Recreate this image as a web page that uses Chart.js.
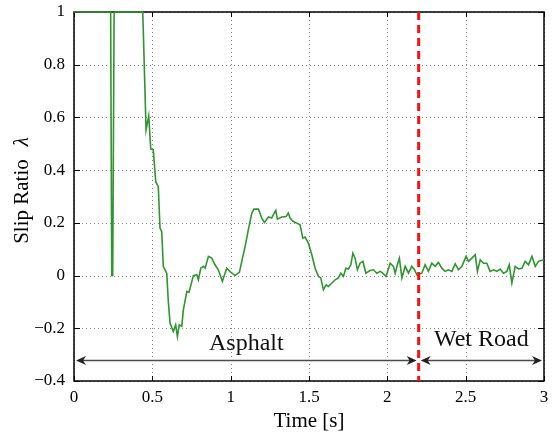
<!DOCTYPE html>
<html>
<head>
<meta charset="utf-8">
<script src="https://cdn.jsdelivr.net/npm/chart.js@4.4.1/dist/chart.umd.min.js"></script>
<style>
html, body { margin: 0; padding: 0; background: #fff; }
</style>
</head>
<body>
<canvas id="slipChart" width="555" height="434"></canvas>
<script>
// slip ratio samples
const timeS = [
    0, 0.234, 0.241, 0.247, 0.256, 0.439, 0.460, 0.477, 0.490, 0.506,
    0.522, 0.538, 0.549, 0.560, 0.570, 0.592, 0.602, 0.613, 0.634, 0.649,
    0.660, 0.672, 0.688, 0.698, 0.720, 0.734, 0.762, 0.784, 0.794, 0.809,
    0.826, 0.837, 0.858, 0.879, 0.900, 0.921, 0.947, 0.975, 0.996, 1.028,
    1.056, 1.071, 1.092, 1.113, 1.135, 1.149, 1.177, 1.199, 1.215, 1.241,
    1.262, 1.273, 1.288, 1.298, 1.326, 1.354, 1.368, 1.379, 1.400, 1.422,
    1.443, 1.460, 1.475, 1.496, 1.518, 1.539, 1.560, 1.575, 1.592, 1.609,
    1.624, 1.646, 1.667, 1.688, 1.703, 1.720, 1.735, 1.752, 1.767, 1.780,
    1.794, 1.809, 1.826, 1.844, 1.863, 1.890, 1.911, 1.933, 1.954, 1.965,
    1.992, 2.018, 2.039, 2.050, 2.064, 2.077, 2.093, 2.114, 2.135, 2.156,
    2.173, 2.188, 2.220, 2.241, 2.262, 2.284, 2.305, 2.326, 2.348, 2.369,
    2.390, 2.412, 2.433, 2.454, 2.476, 2.503, 2.518, 2.540, 2.561, 2.575,
    2.593, 2.614, 2.635, 2.656, 2.678, 2.699, 2.720, 2.741, 2.763, 2.778,
    2.795, 2.816, 2.837, 2.859, 2.880, 2.901, 2.923, 2.944, 2.965, 2.987,
    3.0
];
const slipRatio = [
    1, 1, 0, 0, 1, 1, 0.553, 0.606, 0.48, 0.477,
    0.355, 0.338, 0.18, 0.167, 0.035, 0.009, -0.098, -0.18, -0.212, -0.187,
    -0.231, -0.187, -0.193, -0.13, -0.06, -0.064, 0, 0.003, -0.016, 0.028,
    0.035, 0.028, 0.073, 0.066, 0.041, 0.022, -0.022, 0.028, 0.015, 0,
    0.013, 0.054, 0.11, 0.174, 0.237, 0.252, 0.252, 0.218, 0.201, 0.222,
    0.218, 0.231, 0.247, 0.214, 0.222, 0.224, 0.237, 0.218, 0.205, 0.199,
    0.193, 0.142, 0.146, 0.123, 0.079, 0.028, -0.003, -0.009, -0.054, -0.035,
    -0.041, -0.028, -0.016, -0.009, 0.009, -0.003, 0.028, 0.025, 0.041, 0.085,
    0.066, 0.022, 0.047, 0.054, 0.009, 0.019, 0.022, 0.009, 0.016, 0.012,
    -0.003, 0.047, 0.035, 0.009, 0.041, 0.066, -0.009, 0.035, 0.009, 0.035,
    0.022, 0.003, 0.009, 0.041, 0.016, 0.047, 0.035, 0.05, 0.028, 0.016,
    0.022, 0.016, 0.045, 0.022, 0.035, 0.073, 0.054, 0.066, 0.079, 0.016,
    0.06, 0.047, 0.047, 0.016, 0.022, 0.016, 0.025, 0.009, 0.016, 0.041,
    -0.028, 0.035, 0.025, 0.028, 0.054, 0.041, 0.073, 0.035, 0.054, 0.058,
    0.06
];
const xTicks = [0, 0.5, 1, 1.5, 2, 2.5, 3];
const yTicks = [-0.4, -0.2, 0, 0.2, 0.4, 0.6, 0.8, 1];

// road surfaces
const surfaceChange = 2.2;
const regionNames = ['Asphalt', 'Wet Road'];
const regionStart = [0, 2.2];
const regionEnd = [2.2, 3];
const labelLevel = [-0.282, -0.269];
const arrowLevel = -0.322;

const serif = "'Liberation Serif', 'DejaVu Serif', serif";

function fmtTick(value) {
    const v = Math.round(value * 10) / 10;
    if (v < 0) return '\u2212' + String(Math.abs(v));
    return String(v);
}

function drawArrowHead(ctx, x, y, dir) {
    // small stealth style head, dir = +1 points right
    ctx.beginPath();
    ctx.moveTo(x, y);
    ctx.lineTo(x - dir * 10, y - 4.5);
    ctx.lineTo(x - dir * 7, y);
    ctx.lineTo(x - dir * 10, y + 4.5);
    ctx.closePath();
    ctx.fill();
}

const decorPlugin = {
    id: 'decor',
    beforeDatasetsDraw(chart) {
        const {ctx, chartArea: a, scales: {x, y}} = chart;
        ctx.save();
        ctx.strokeStyle = '#888';
        ctx.lineWidth = 1;
        ctx.setLineDash([1, 3]);
        xTicks.forEach(t => {
            const px = Math.round(x.getPixelForValue(t)) + 0.5;
            ctx.beginPath(); ctx.moveTo(px, a.top); ctx.lineTo(px, a.bottom); ctx.stroke();
        });
        yTicks.forEach(v => {
            const py = Math.round(y.getPixelForValue(v)) + 0.5;
            ctx.beginPath(); ctx.moveTo(a.left, py); ctx.lineTo(a.right, py); ctx.stroke();
        });
        ctx.setLineDash([]);

        // box and inward ticks
        ctx.strokeStyle = '#000';
        ctx.lineWidth = 1.5;
        ctx.strokeRect(a.left, a.top, a.right - a.left, a.bottom - a.top);
        ctx.lineWidth = 1;
        xTicks.forEach(t => {
            const px = Math.round(x.getPixelForValue(t)) + 0.5;
            ctx.beginPath();
            ctx.moveTo(px, a.bottom); ctx.lineTo(px, a.bottom - 5);
            ctx.moveTo(px, a.top); ctx.lineTo(px, a.top + 5);
            ctx.stroke();
        });
        yTicks.forEach(v => {
            const py = Math.round(y.getPixelForValue(v)) + 0.5;
            ctx.beginPath();
            ctx.moveTo(a.left, py); ctx.lineTo(a.left + 6, py);
            ctx.moveTo(a.right, py); ctx.lineTo(a.right - 6, py);
            ctx.stroke();
        });
        ctx.restore();
    },
    afterDatasetsDraw(chart) {
        const {ctx, chartArea: a, scales: {x, y}} = chart;
        ctx.save();
        // region arrows and names
        const ay = Math.round(y.getPixelForValue(arrowLevel)) + 0.5;
        ctx.strokeStyle = '#4a4a4a';
        ctx.lineWidth = 1.5;
        for (let i = 0; i < regionNames.length; i++) {
            const x0 = x.getPixelForValue(regionStart[i]) + 2;
            const x1 = x.getPixelForValue(regionEnd[i]) - 2;
            ctx.beginPath(); ctx.moveTo(x0 + 4, ay); ctx.lineTo(x1 - 4, ay); ctx.stroke();
            ctx.fillStyle = '#222';
            drawArrowHead(ctx, x0, ay, -1);
            drawArrowHead(ctx, x1, ay, 1);

            ctx.fillStyle = '#111';
            ctx.font = '24px ' + serif;
            ctx.textAlign = 'center';
            ctx.textBaseline = 'alphabetic';
            const mid = (regionStart[i] + regionEnd[i]) / 2;
            ctx.fillText(regionNames[i], x.getPixelForValue(mid), y.getPixelForValue(labelLevel[i]));
        }

        // surface change marker
        const rx = x.getPixelForValue(surfaceChange);
        ctx.strokeStyle = '#ff1010';
        ctx.lineWidth = 3;
        ctx.setLineDash([8, 5]);
        ctx.beginPath(); ctx.moveTo(rx, a.top); ctx.lineTo(rx, a.bottom); ctx.stroke();
        ctx.restore();
    },
    afterDraw(chart) {
        const {ctx, chartArea: a} = chart;
        // y title with italic lambda
        ctx.save();
        const cy = (a.top + a.bottom) / 2 - 6;
        ctx.translate(28, cy);
        ctx.rotate(-Math.PI / 2);
        ctx.fillStyle = '#000';
        ctx.textBaseline = 'alphabetic';
        ctx.textAlign = 'left';
        const part1 = 'Slip Ratio';
        const part2 = '\u03bb';
        ctx.font = '21px ' + serif;
        const w1 = ctx.measureText(part1).width;
        const gap = 13;
        ctx.font = 'italic 21px ' + serif;
        const w2 = ctx.measureText(part2).width;
        const start = -(w1 + gap + w2) / 2;
        ctx.font = '21px ' + serif;
        ctx.fillText(part1, start, 0);
        ctx.font = 'italic 21px ' + serif;
        ctx.fillText(part2, start + w1 + gap, 0);
        ctx.restore();
    }
};

const points = timeS.map((t, i) => ({x: t, y: slipRatio[i]}));

new Chart(document.getElementById('slipChart'), {
    type: 'line',
    data: {
        datasets: [{
            label: 'Slip ratio',
            data: points,
            borderColor: '#2f952f',
            borderWidth: 1.6,
            pointRadius: 0,
            tension: 0,
            fill: false,
            clip: 4
        }]
    },
    options: {
        responsive: false,
        animation: false,
        layout: { padding: { top: 12, right: 11, left: 0, bottom: 0 } },
        plugins: {
            legend: { display: false },
            tooltip: { enabled: false }
        },
        scales: {
            x: {
                type: 'linear',
                min: 0,
                max: 3,
                afterFit(scale) { scale.height = 53; },
                afterBuildTicks(scale) { scale.ticks = xTicks.map(v => ({value: v})); },
                grid: { display: false, drawTicks: false },
                border: { display: false },
                ticks: {
                    padding: 6,
                    color: '#000',
                    font: { family: serif, size: 17 },
                    callback: fmtTick,
                    maxRotation: 0
                },
                title: {
                    display: true,
                    text: 'Time [s]',
                    color: '#000',
                    font: { family: serif, size: 21 },
                    padding: { top: 2, bottom: 0 }
                }
            },
            y: {
                min: -0.4,
                max: 1,
                afterFit(scale) {
                    scale.width = 74;
                    scale.paddingTop = 0;
                    scale.paddingBottom = 0;
                },
                afterBuildTicks(scale) { scale.ticks = yTicks.map(v => ({value: v})); },
                grid: { display: false, drawTicks: false },
                border: { display: false },
                ticks: {
                    padding: 9,
                    color: '#000',
                    font: { family: serif, size: 17 },
                    callback: fmtTick
                }
            }
        }
    },
    plugins: [decorPlugin]
});
</script>
</body>
</html>
